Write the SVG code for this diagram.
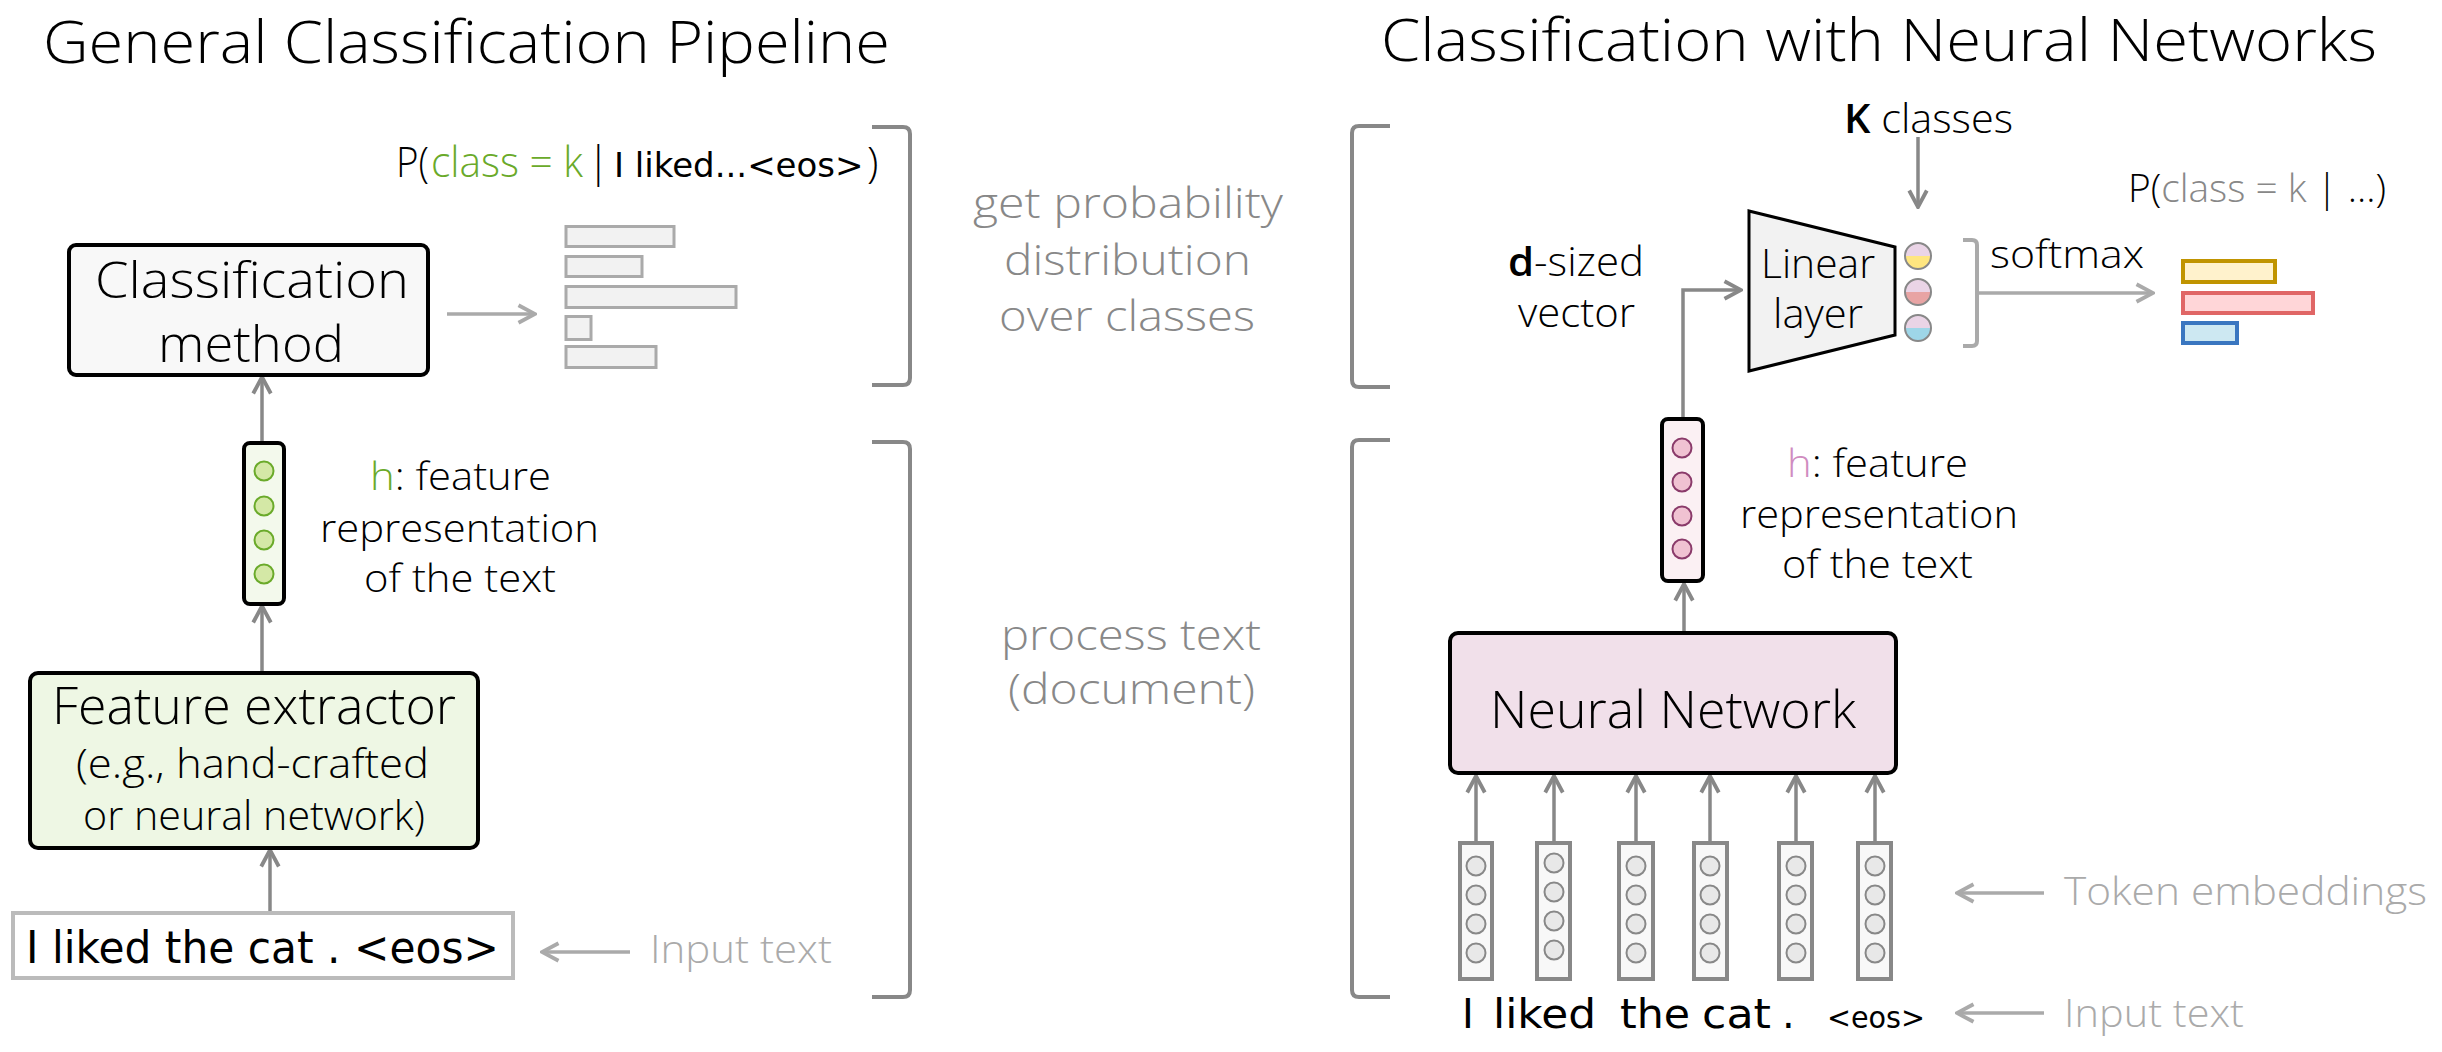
<svg xmlns="http://www.w3.org/2000/svg" width="2442" height="1052" viewBox="0 0 2442 1052">
<style>
text{font-family:"Open Sans","Noto Sans",sans-serif;font-weight:300;fill:#000}
.t{font-size:58px}
.b50{font-size:50px}
.m40{font-size:40px}
.m39{font-size:39px}
.gr{fill:#888;font-size:42px}
.lg{fill:#aaa;font-size:39px}
.comic{font-family:"DejaVu Sans",sans-serif;font-weight:400}
.bold{font-weight:600}
.box{stroke:#000;stroke-width:4}
.ln{fill:none;stroke:#888;stroke-width:3.5}
.lnl{fill:none;stroke:#aaa;stroke-width:3.5}
.br{fill:none;stroke:#888;stroke-width:4}
.brl{fill:none;stroke:#aaa;stroke-width:4}
.gc{fill:#d4e8a6;stroke:#6aaa2a;stroke-width:2}
.pc{fill:#f0c2d2;stroke:#8a3a6a;stroke-width:2}
.ec{fill:#e8e8e8;stroke:#888;stroke-width:2}
.col{fill:#f8f8f8;stroke:#888;stroke-width:4}
.bar{fill:#f2f2f2;stroke:#aaa;stroke-width:3}
</style>
<defs>
<marker id="ah" markerUnits="userSpaceOnUse" markerWidth="22" markerHeight="22" viewBox="0 0 20 20" refX="18" refY="10" orient="auto">
<path d="M3,2 L18,10 L3,18" fill="none" stroke="#888" stroke-width="3.5"/>
</marker>
<marker id="ahl" markerUnits="userSpaceOnUse" markerWidth="22" markerHeight="22" viewBox="0 0 20 20" refX="18" refY="10" orient="auto">
<path d="M3,2 L18,10 L3,18" fill="none" stroke="#aaa" stroke-width="3.5"/>
</marker>
</defs>
<rect width="2442" height="1052" fill="#fff"/>

<g id="titles">
<text class="t" x="43" y="63" textLength="847" lengthAdjust="spacingAndGlyphs">General Classification Pipeline</text>
<text class="t" x="1381" y="61" textLength="996" lengthAdjust="spacingAndGlyphs">Classification with Neural Networks</text>
</g>

<g id="connectors">
<line class="lnl" x1="447" y1="314" x2="535" y2="314" marker-end="url(#ahl)"/>
<line class="ln" x1="262" y1="443" x2="262" y2="377" marker-end="url(#ah)"/>
<line class="ln" x1="262" y1="673" x2="262" y2="606" marker-end="url(#ah)"/>
<line class="ln" x1="270" y1="913" x2="270" y2="850" marker-end="url(#ah)"/>
<line class="lnl" x1="630" y1="952" x2="542" y2="952" marker-end="url(#ahl)"/>
<polyline class="ln" points="1683,419 1683,290 1741,290" marker-end="url(#ah)"/>
<line class="ln" x1="1918" y1="137" x2="1918" y2="207" marker-end="url(#ah)"/>
<path class="brl" d="M1963,240 L1972,240 Q1977,240 1977,245 L1977,341 Q1977,346 1972,346 L1963,346"/>
<line class="lnl" x1="1977" y1="293" x2="2153" y2="293" marker-end="url(#ahl)"/>
<line class="ln" x1="1684" y1="633" x2="1684" y2="584" marker-end="url(#ah)"/>
<line class="ln" x1="1476" y1="843" x2="1476" y2="776" marker-end="url(#ah)"/>
<line class="ln" x1="1554" y1="843" x2="1554" y2="776" marker-end="url(#ah)"/>
<line class="ln" x1="1636" y1="843" x2="1636" y2="776" marker-end="url(#ah)"/>
<line class="ln" x1="1710" y1="843" x2="1710" y2="776" marker-end="url(#ah)"/>
<line class="ln" x1="1796" y1="843" x2="1796" y2="776" marker-end="url(#ah)"/>
<line class="ln" x1="1875" y1="843" x2="1875" y2="776" marker-end="url(#ah)"/>
<line class="lnl" x1="2044" y1="893" x2="1957" y2="893" marker-end="url(#ahl)"/>
<line class="lnl" x1="2044" y1="1013" x2="1957" y2="1013" marker-end="url(#ahl)"/>
</g>

<g id="brackets">
<path class="br" d="M872,127 L903,127 Q910,127 910,134 L910,378 Q910,385 903,385 L872,385"/>
<path class="br" d="M872,442 L903,442 Q910,442 910,449 L910,990 Q910,997 903,997 L872,997"/>
<path class="br" d="M1390,126 L1359,126 Q1352,126 1352,133 L1352,380 Q1352,387 1359,387 L1390,387"/>
<path class="br" d="M1390,440 L1359,440 Q1352,440 1352,447 L1352,990 Q1352,997 1359,997 L1390,997"/>
</g>

<g id="classification-method">
<rect class="box" x="69" y="245" width="359" height="130" rx="7" fill="#f8f8f8"/>
<text class="b50" x="95" y="298" textLength="314" lengthAdjust="spacingAndGlyphs">Classification</text>
<text class="b50" x="158" y="362" textLength="186" lengthAdjust="spacingAndGlyphs">method</text>
</g>

<g id="prob-bars-left">
<rect class="bar" x="566" y="226.5" width="108" height="20"/>
<rect class="bar" x="566" y="256.5" width="76" height="20"/>
<rect class="bar" x="566" y="286.5" width="170" height="21"/>
<rect class="bar" x="566" y="316.5" width="25" height="23"/>
<rect class="bar" x="566" y="346.5" width="90" height="21"/>
</g>

<g id="prob-label-left" font-size="42">
<text x="396" y="177" textLength="33" lengthAdjust="spacingAndGlyphs">P(</text>
<text x="431" y="177" style="fill:#6aaa2a" textLength="152" lengthAdjust="spacingAndGlyphs">class = k</text>
<text x="587" y="177">|</text>
<text class="comic" x="614" y="177" font-size="34">I liked...&lt;eos&gt;</text>
<text x="867" y="177">)</text>
</g>

<g id="h-vector-left">
<rect class="box" x="244" y="443" width="40" height="161" rx="6" fill="#f3f9ec"/>
<circle class="gc" cx="264" cy="471" r="9.5"/>
<circle class="gc" cx="264" cy="506" r="9.5"/>
<circle class="gc" cx="264" cy="540" r="9.5"/>
<circle class="gc" cx="264" cy="574" r="9.5"/>
</g>

<g id="h-label-left">
<text class="m39" x="370" y="490" textLength="181" lengthAdjust="spacingAndGlyphs"><tspan fill="#6aaa2a">h</tspan>: feature</text>
<text class="m39" x="320" y="542" textLength="279" lengthAdjust="spacingAndGlyphs">representation</text>
<text class="m39" x="364" y="592" textLength="192" lengthAdjust="spacingAndGlyphs">of the text</text>
</g>

<g id="feature-extractor">
<rect class="box" x="30" y="673" width="448" height="175" rx="8" fill="#eef7e4"/>
<text x="52" y="724" font-size="52" textLength="404" lengthAdjust="spacingAndGlyphs">Feature extractor</text>
<text class="m40" x="76" y="778" textLength="353" lengthAdjust="spacingAndGlyphs">(e.g., hand-crafted</text>
<text class="m40" x="83" y="830" textLength="342" lengthAdjust="spacingAndGlyphs">or neural network)</text>
</g>

<g id="input-text-left">
<rect x="13" y="913" width="500" height="65" fill="#fff" stroke="#bbb" stroke-width="4"/>
<text class="comic" x="26" y="963" font-size="44" textLength="473" lengthAdjust="spacingAndGlyphs">I liked the cat . &lt;eos&gt;</text>
</g>
<g id="input-label-left">
<text class="lg" x="650" y="963" font-size="38" textLength="182" lengthAdjust="spacingAndGlyphs">Input text</text>
</g>

<g id="middle-labels">
<text class="gr" x="973" y="218" textLength="310" lengthAdjust="spacingAndGlyphs">get probability</text>
<text class="gr" x="1004" y="275" textLength="247" lengthAdjust="spacingAndGlyphs">distribution</text>
<text class="gr" x="999" y="331" textLength="256" lengthAdjust="spacingAndGlyphs">over classes</text>
<text class="gr" x="1001" y="650" textLength="260" lengthAdjust="spacingAndGlyphs">process text</text>
<text class="gr" x="1008" y="704" textLength="247" lengthAdjust="spacingAndGlyphs">(document)</text>
</g>

<g id="d-sized-label">
<text class="m40" x="1508" y="276" textLength="136" lengthAdjust="spacingAndGlyphs"><tspan class="bold">d</tspan>-sized</text>
<text class="m40" x="1518" y="327" textLength="117" lengthAdjust="spacingAndGlyphs">vector</text>
</g>

<g id="k-classes">
<text class="m40" x="1844" y="133" textLength="169" lengthAdjust="spacingAndGlyphs"><tspan class="bold">K</tspan> classes</text>
</g>

<g id="linear-layer">
<polygon points="1749,211 1895,247 1895,335 1749,371" fill="#f2f2f2" stroke="#000" stroke-width="3"/>
<text class="m40" x="1761" y="278" textLength="114" lengthAdjust="spacingAndGlyphs">Linear</text>
<text class="m40" x="1773" y="328" textLength="90" lengthAdjust="spacingAndGlyphs">layer</text>
</g>

<g id="logits">
<path d="M1905,256 A13,13 0 0 1 1931,256 Z" fill="#ead4e6"/>
<path d="M1905,256 A13,13 0 0 0 1931,256 Z" fill="#ffe680"/>
<circle cx="1918" cy="256" r="13" fill="none" stroke="#888" stroke-width="2"/>
<path d="M1905,292 A13,13 0 0 1 1931,292 Z" fill="#ead4e6"/>
<path d="M1905,292 A13,13 0 0 0 1931,292 Z" fill="#e8a4a4"/>
<circle cx="1918" cy="292" r="13" fill="none" stroke="#888" stroke-width="2"/>
<path d="M1905,328 A13,13 0 0 1 1931,328 Z" fill="#ead4e6"/>
<path d="M1905,328 A13,13 0 0 0 1931,328 Z" fill="#9ed6e8"/>
<circle cx="1918" cy="328" r="13" fill="none" stroke="#888" stroke-width="2"/>
</g>

<g id="softmax-label">
<text x="1990" y="268" font-size="38" textLength="154" lengthAdjust="spacingAndGlyphs">softmax</text>
</g>

<g id="prob-bars-right">
<rect x="2183" y="261" width="92" height="21" fill="#fff2cc" stroke="#c09400" stroke-width="4"/>
<rect x="2183" y="293" width="130" height="20" fill="#ffd6d8" stroke="#e06666" stroke-width="4"/>
<rect x="2183" y="323" width="54" height="20" fill="#cde8f2" stroke="#3a76c0" stroke-width="4"/>
</g>

<g id="prob-label-right">
<text x="2128" y="202" font-size="38" textLength="258" lengthAdjust="spacingAndGlyphs">P(<tspan fill="#888">class = k</tspan> | ...)</text>
</g>

<g id="h-vector-right">
<rect class="box" x="1662" y="419" width="41" height="162" rx="6" fill="#fbf0f3"/>
<circle class="pc" cx="1682" cy="448" r="9.5"/>
<circle class="pc" cx="1682" cy="482" r="9.5"/>
<circle class="pc" cx="1682" cy="516" r="9.5"/>
<circle class="pc" cx="1682" cy="549" r="9.5"/>
</g>

<g id="h-label-right">
<text class="m39" x="1787" y="477" textLength="181" lengthAdjust="spacingAndGlyphs"><tspan fill="#d08cc0">h</tspan>: feature</text>
<text class="m39" x="1740" y="528" textLength="278" lengthAdjust="spacingAndGlyphs">representation</text>
<text class="m39" x="1782" y="578" textLength="191" lengthAdjust="spacingAndGlyphs">of the text</text>
</g>

<g id="neural-network">
<rect class="box" x="1450" y="633" width="446" height="140" rx="8" fill="#f1e0ea"/>
<text x="1490" y="728" font-size="52" textLength="366" lengthAdjust="spacingAndGlyphs">Neural Network</text>
</g>

<g id="token-embeddings">
<rect class="col" x="1460" y="843" width="32" height="136"/>
<rect class="col" x="1537" y="843" width="33" height="136"/>
<rect class="col" x="1619" y="843" width="34" height="136"/>
<rect class="col" x="1694" y="843" width="33" height="136"/>
<rect class="col" x="1779" y="843" width="33" height="136"/>
<rect class="col" x="1858" y="843" width="33" height="136"/>
<g>
<circle class="ec" cx="1476" cy="866" r="9.5"/><circle class="ec" cx="1476" cy="895" r="9.5"/><circle class="ec" cx="1476" cy="924" r="9.5"/><circle class="ec" cx="1476" cy="953" r="9.5"/>
<circle class="ec" cx="1554" cy="863" r="9.5"/><circle class="ec" cx="1554" cy="892" r="9.5"/><circle class="ec" cx="1554" cy="921" r="9.5"/><circle class="ec" cx="1554" cy="950" r="9.5"/>
<circle class="ec" cx="1636" cy="866" r="9.5"/><circle class="ec" cx="1636" cy="895" r="9.5"/><circle class="ec" cx="1636" cy="924" r="9.5"/><circle class="ec" cx="1636" cy="953" r="9.5"/>
<circle class="ec" cx="1710" cy="866" r="9.5"/><circle class="ec" cx="1710" cy="895" r="9.5"/><circle class="ec" cx="1710" cy="924" r="9.5"/><circle class="ec" cx="1710" cy="953" r="9.5"/>
<circle class="ec" cx="1796" cy="866" r="9.5"/><circle class="ec" cx="1796" cy="895" r="9.5"/><circle class="ec" cx="1796" cy="924" r="9.5"/><circle class="ec" cx="1796" cy="953" r="9.5"/>
<circle class="ec" cx="1875" cy="866" r="9.5"/><circle class="ec" cx="1875" cy="895" r="9.5"/><circle class="ec" cx="1875" cy="924" r="9.5"/><circle class="ec" cx="1875" cy="953" r="9.5"/>
</g>
</g>

<g id="tokens-right">
<text class="comic" y="1028" font-size="40"><tspan x="1462">I</tspan><tspan x="1493" textLength="103" lengthAdjust="spacingAndGlyphs">liked</tspan><tspan x="1620" textLength="70" lengthAdjust="spacingAndGlyphs">the</tspan><tspan x="1702" textLength="69" lengthAdjust="spacingAndGlyphs">cat</tspan><tspan x="1782">.</tspan><tspan x="1827" font-size="30" textLength="98" lengthAdjust="spacingAndGlyphs">&lt;eos&gt;</tspan></text>
</g>

<g id="right-labels">
<text class="lg" x="2064" y="905" textLength="363" lengthAdjust="spacingAndGlyphs">Token embeddings</text>
<text class="lg" x="2064" y="1027" textLength="180" lengthAdjust="spacingAndGlyphs">Input text</text>
</g>
</svg>
